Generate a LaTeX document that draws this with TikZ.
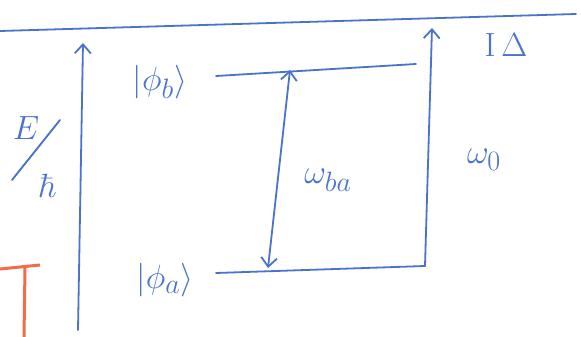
\documentclass[tikz,border=0pt]{standalone}
\usetikzlibrary{arrows.meta}
\definecolor{pen}{RGB}{75,115,205}
\definecolor{orangepen}{RGB}{240,110,70}
\tikzset{
  ink/.style={draw=pen, line width=1.8pt, line cap=round},
  arr/.style={ink, -{Straight Barb[length=9pt,width=16pt]}},
  darr/.style={ink, {Straight Barb[length=9pt,width=16pt]}-{Straight Barb[length=9pt,width=16pt]}},
  lab/.style={text=pen, font=\Huge, inner sep=0pt, scale=1.35, transform shape},
}
\begin{document}
\begin{tikzpicture}[x=1pt,y=-1pt]
\useasboundingbox (0,0) rectangle (581,337);
\fill[white] (0,0) rectangle (581,337);
% top line
\coordinate (tl) at (0,31);
\coordinate (tr) at (576,14);
\draw[ink] (tl) -- (tr);
% levels
\coordinate (b1) at (216,76);
\coordinate (b2) at (416,64);
\coordinate (a1) at (216,273);
\coordinate (a2) at (425,266);
\draw[ink] (b1) -- (b2);
\draw[ink] (a1) -- (a2);
% left axis
\coordinate (ax0) at (78,330);
\coordinate (ax1) at (83,43);
\draw[arr] (ax0) -- (ax1);
% right arrow
\coordinate (r1) at (432,28);
\draw[arr] (a2) -- (r1);
% middle double arrow
\coordinate (m1) at (290,70);
\coordinate (m0) at (268,268);
\draw[darr] (m0) -- (m1);
% labels
\node[lab] (phib) at (160,82) {$|\phi_b\rangle$};
\node[lab] (phia) at (165,280) {$|\phi_a\rangle$};
\node[lab] (wba) at (328,180) {$\omega_{ba}$};
\node[lab] (w0) at (484,160) {$\omega_0$};
\node[lab] (ID) at (506,45) {I\,$\Delta$};
\node[lab] (E) at (26,128) {$E$};
\coordinate (s0) at (12,180);
\coordinate (s1) at (60,120);
\draw[ink] (s0) -- (s1);
\node[lab] (hb) at (48,186) {$\hbar$};
% orange T
\coordinate (o1) at (0,269);
\coordinate (o2) at (40,265);
\coordinate (o3) at (25,268);
\coordinate (o4) at (24,337);
\draw[draw=orangepen, line width=3pt] (o1) -- (o2);
\draw[draw=orangepen, line width=3pt] (o3) -- (o4);
\end{tikzpicture}
\end{document}
